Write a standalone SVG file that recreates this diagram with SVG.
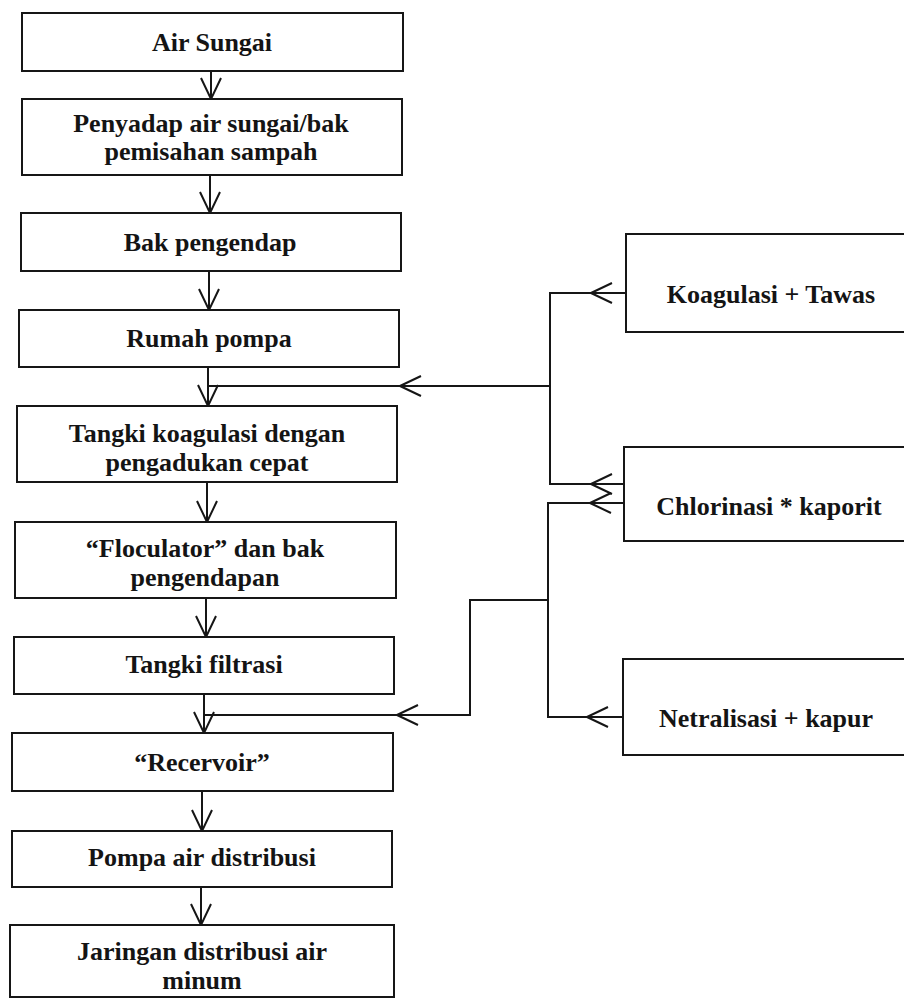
<svg xmlns="http://www.w3.org/2000/svg" width="904" height="999" viewBox="0 0 904 999">
<style>
.bx{fill:#ffffff;stroke:#161616;stroke-width:2}
.ln{fill:none;stroke:#161616;stroke-width:2}
.t{font-family:"Liberation Serif","Times New Roman",serif;font-weight:bold;font-size:26px;fill:#141414;text-anchor:middle}
</style>
<defs>
<marker id="ah" viewBox="-23 -12 25 24" markerWidth="25" markerHeight="24" refX="0" refY="0" orient="auto" markerUnits="userSpaceOnUse">
<path d="M-21,-10 L0,0 L-21,10" fill="none" stroke="#161616" stroke-width="2"/>
</marker>
</defs>
<rect width="904" height="999" fill="#ffffff"/>
<g id="connectors">
<path class="ln" d="M211,71 V99" marker-end="url(#ah)"/>
<path class="ln" d="M210,175 V213" marker-end="url(#ah)"/>
<path class="ln" d="M209,271 V310" marker-end="url(#ah)"/>
<path class="ln" d="M208,367 V406" marker-end="url(#ah)"/>
<path class="ln" d="M207,482 V522" marker-end="url(#ah)"/>
<path class="ln" d="M206,598 V637" marker-end="url(#ah)"/>
<path class="ln" d="M204,694 V733" marker-end="url(#ah)"/>
<path class="ln" d="M202,791 V831" marker-end="url(#ah)"/>
<path class="ln" d="M201,887 V925" marker-end="url(#ah)"/>
<path class="ln" d="M626,293 H591" marker-end="url(#ah)"/>
<path class="ln" d="M591,293 H550 V484 H591"/>
<path class="ln" d="M624,484 H591" marker-end="url(#ah)"/>
<path class="ln" d="M550,386 H400" marker-end="url(#ah)"/>
<path class="ln" d="M400,386 H208"/>
<path class="ln" d="M624,503 H590" marker-end="url(#ah)"/>
<path class="ln" d="M590,503 H548 V717 H587"/>
<path class="ln" d="M623,717 H587" marker-end="url(#ah)"/>
<path class="ln" d="M548,600 H470 V715 H397"/>
<path class="ln" d="M470,715 H397" marker-end="url(#ah)"/>
<path class="ln" d="M397,715 H204"/>
</g>
<g id="n1"><rect class="bx" x="22" y="13" width="381" height="58"/><text class="t" x="212" y="51">Air Sungai</text></g>
<g id="n2"><rect class="bx" x="22" y="99" width="380" height="76"/><text class="t" x="211" y="132">Penyadap air sungai/bak</text><text class="t" x="211" y="160">pemisahan sampah</text></g>
<g id="n3"><rect class="bx" x="21" y="213" width="380" height="58"/><text class="t" x="210" y="251">Bak pengendap</text></g>
<g id="n4"><rect class="bx" x="19" y="310" width="380" height="57"/><text class="t" x="209" y="347">Rumah pompa</text></g>
<g id="n5"><rect class="bx" x="17" y="406" width="380" height="76"/><text class="t" x="207" y="442">Tangki koagulasi dengan</text><text class="t" x="207" y="471">pengadukan cepat</text></g>
<g id="n6"><rect class="bx" x="15" y="522" width="381" height="76"/><text class="t" x="205" y="557">“Floculator” dan bak</text><text class="t" x="205" y="586">pengendapan</text></g>
<g id="n7"><rect class="bx" x="14" y="637" width="380" height="57"/><text class="t" x="204" y="673">Tangki filtrasi</text></g>
<g id="n8"><rect class="bx" x="12" y="733" width="381" height="58"/><text class="t" x="202" y="771">“Recervoir”</text></g>
<g id="n9"><rect class="bx" x="12" y="831" width="380" height="56"/><text class="t" x="202" y="866">Pompa air distribusi</text></g>
<g id="n10"><rect class="bx" x="10" y="925" width="384" height="72"/><text class="t" x="202" y="960">Jaringan distribusi air</text><text class="t" x="202" y="989">minum</text></g>
<g id="k1"><rect class="bx" x="626" y="234" width="300" height="98"/><text class="t" x="771" y="303">Koagulasi + Tawas</text></g>
<g id="k2"><rect class="bx" x="624" y="447" width="300" height="94"/><text class="t" x="769" y="515">Chlorinasi * kaporit</text></g>
<g id="k3"><rect class="bx" x="623" y="659" width="300" height="96"/><text class="t" x="766" y="727">Netralisasi + kapur</text></g>
</svg>
